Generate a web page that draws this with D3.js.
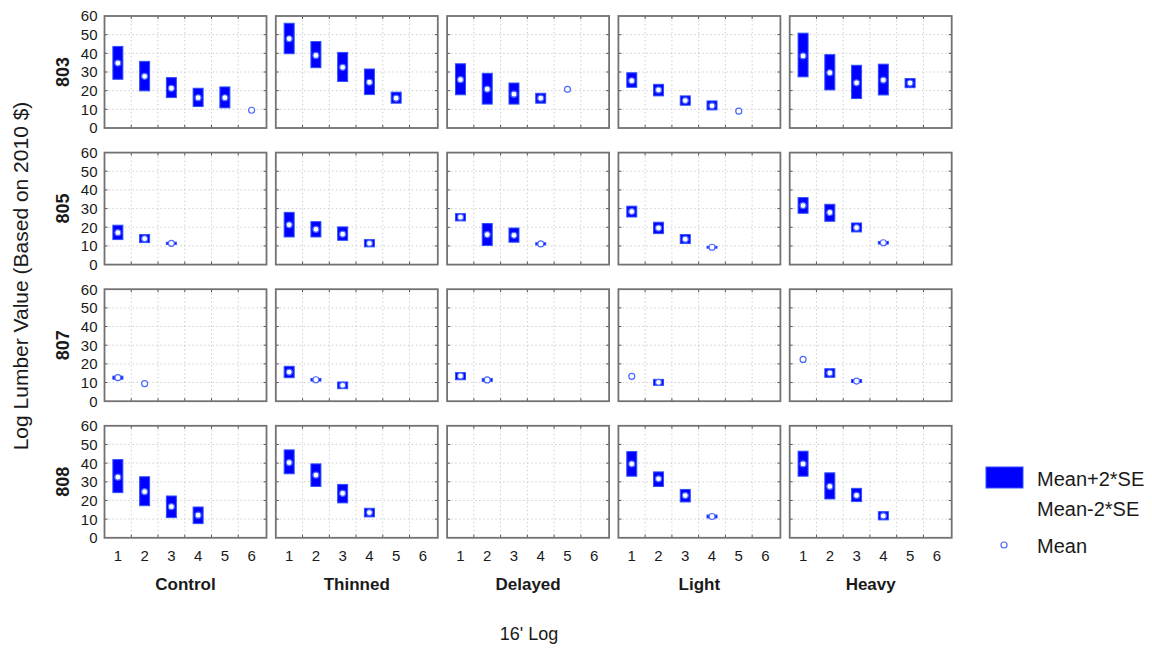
<!DOCTYPE html>
<html>
<head>
<meta charset="utf-8">
<title>Log Lumber Value</title>
<script src="https://d3js.org/d3.v7.min.js"></script>
<style>
  body { margin: 0; background: #fff; }
  svg text { font-family: "Liberation Sans", Arial, sans-serif; fill: #1a1a1a; }
</style>
</head>
<body>
<script>
// sites (rows) and treatments (columns)
var sites = ["803", "805", "807", "808"];
var treatments = ["Control", "Thinned", "Delayed", "Light", "Heavy"];
var logTicks = [1, 2, 3, 4, 5, 6];
var yTicks = [0, 10, 20, 30, 40, 50, 60];

// mean, mean-2*SE, mean+2*SE per treatment, by 16' log position
var mean803 = [[34.8, 27.7, 21.3, 16.2, 16.2, 9.5], [47.8, 38.9, 32.5, 24.5, 16.0], [25.9, 20.8, 18.1, 16.0, 20.7], [25.3, 20.4, 14.7, 11.9, 9.0], [38.6, 29.6, 24.2, 25.7, 24.1]];
var lo803   = [[26.1, 19.9, 16.3, 11.5, 10.8, 9.5], [39.8, 32.3, 24.9, 17.9, 13.3], [17.8, 12.8, 12.8, 13.3, 20.7], [21.8, 17.2, 12.2, 9.7, 9.0], [27.4, 20.4, 15.8, 17.7, 21.6]];
var hi803   = [[43.7, 35.7, 27.0, 21.3, 22.0, 9.5], [56.1, 46.3, 40.5, 31.6, 19.2], [34.4, 29.3, 24.1, 18.6, 20.7], [29.6, 23.4, 17.2, 14.5, 9.0], [50.8, 39.3, 33.6, 34.2, 26.5]];

var mean805 = [[17.1, 13.9, 11.4], [21.3, 18.9, 16.3, 11.4], [25.4, 16.1, 15.7, 11.1], [28.4, 19.6, 13.6, 9.3], [31.6, 27.9, 19.8, 11.7]];
var lo805   = [[13.4, 11.8, 10.8], [14.8, 14.8, 13.0, 9.5], [23.4, 10.2, 12.0, 10.5], [25.5, 16.6, 11.3, 8.8], [27.5, 23.2, 17.5, 11.0]];
var hi805   = [[21.1, 16.1, 12.0], [28.0, 23.0, 20.2, 13.4], [27.3, 22.0, 19.6, 11.7], [31.3, 22.7, 16.1, 9.8], [35.9, 32.3, 22.3, 12.4]];

var mean807 = [[12.6, 9.4], [15.6, 11.5, 8.5], [13.5, 11.4], [13.3, 10.1], [22.4, 15.1, 10.8]];
var lo807   = [[11.8, 9.4], [12.6, 10.8, 6.7], [11.5, 10.6], [13.3, 8.5], [22.4, 12.8, 10.0]];
var hi807   = [[13.4, 9.4], [18.7, 12.2, 10.3], [15.3, 12.2], [13.3, 11.7], [22.4, 17.4, 11.6]];

var mean808 = [[32.5, 24.7, 16.7, 12.1], [40.3, 33.6, 23.8, 13.5], [], [39.6, 31.6, 22.6, 11.4], [39.6, 27.5, 22.7, 11.7]];
var lo808   = [[24.2, 17.2, 10.8, 7.6], [34.3, 27.5, 18.7, 11.2], [], [33.0, 27.5, 19.2, 10.6], [33.0, 20.8, 19.4, 9.6]];
var hi808   = [[41.9, 32.7, 22.4, 16.5], [47.1, 39.6, 28.6, 15.8], [], [46.2, 35.3, 25.9, 12.2], [46.4, 34.8, 26.5, 14.0]];

var means = [mean803, mean805, mean807, mean808];
var lows  = [lo803, lo805, lo807, lo808];
var highs = [hi803, hi805, hi807, hi808];

var width = 1152, height = 648,
    panelLeft = 104.5, panelTop = 16,
    panelW = 162, panelH = 112,
    stepX = 171.3, stepY = 136.6,
    boxW = 10;

var svg = d3.select("body").append("svg")
  .attr("width", width)
  .attr("height", height);

var x = d3.scaleLinear().domain([0.5, 6.5]).range([0, panelW - 1.5]);
var y = d3.scaleLinear().domain([0, 60]).range([panelH, 0]);
var gridX = [1.5, 2.5, 3.5, 4.5, 5.5];
var gridY = [10, 20, 30, 40, 50];

sites.forEach(function (site, r) {
  treatments.forEach(function (trt, c) {
    var g = svg.append("g")
      .attr("transform", "translate(" + (panelLeft + c * stepX) + "," + (panelTop + r * stepY) + ")");

    // dotted grid
    g.selectAll(".gx").data(gridX).enter().append("line")
      .attr("x1", function (d) { return x(d); }).attr("x2", function (d) { return x(d); })
      .attr("y1", 0).attr("y2", panelH)
      .attr("stroke", "#cfcfcf").attr("stroke-dasharray", "1.5,2.5");
    g.selectAll(".gy").data(gridY).enter().append("line")
      .attr("x1", 0).attr("x2", panelW)
      .attr("y1", function (d) { return y(d); }).attr("y2", function (d) { return y(d); })
      .attr("stroke", "#cfcfcf").attr("stroke-dasharray", "1.5,2.5");

    // inward ticks on all four sides
    var tk = 3;
    gridX.forEach(function (d) {
      g.append("line").attr("x1", x(d)).attr("x2", x(d)).attr("y1", 0).attr("y2", tk).attr("stroke", "#555");
      g.append("line").attr("x1", x(d)).attr("x2", x(d)).attr("y1", panelH).attr("y2", panelH - tk).attr("stroke", "#555");
    });
    gridY.forEach(function (d) {
      g.append("line").attr("x1", 0).attr("x2", tk).attr("y1", y(d)).attr("y2", y(d)).attr("stroke", "#555");
      g.append("line").attr("x1", panelW).attr("x2", panelW - tk).attr("y1", y(d)).attr("y2", y(d)).attr("stroke", "#555");
    });

    // frame
    g.append("rect")
      .attr("width", panelW).attr("height", panelH)
      .attr("fill", "none").attr("stroke", "#727272").attr("stroke-width", 1.8);

    var m = means[r][c], lo = lows[r][c], hi = highs[r][c];
    var pts = m.map(function (v, i) { return { pos: i + 1, mean: v, lo: lo[i], hi: hi[i] }; });

    g.selectAll(".box").data(pts.filter(function (d) { return d.hi > d.lo; }))
      .enter().append("rect")
      .attr("x", function (d) { return x(d.pos) - boxW / 2; })
      .attr("y", function (d) { return y(d.hi); })
      .attr("width", boxW)
      .attr("height", function (d) { return y(d.lo) - y(d.hi); })
      .attr("fill", "#0000ff")
      .attr("stroke", "#3050ff").attr("stroke-width", 1);

    g.selectAll(".mean").data(pts).enter().append("circle")
      .attr("cx", function (d) { return x(d.pos); })
      .attr("cy", function (d) { return y(d.mean); })
      .attr("r", 3)
      .attr("fill", "#fff")
      .attr("stroke", "#4a68ff").attr("stroke-width", 1.2);

    // y labels on the first column
    if (c === 0) {
      g.selectAll(".yl").data(yTicks).enter().append("text")
        .attr("x", -7)
        .attr("y", function (d) { return y(d); })
        .attr("dy", "0.36em")
        .attr("text-anchor", "end")
        .attr("font-size", 15)
        .text(function (d) { return d; });
      g.append("text")
        .attr("transform", "translate(-42," + panelH / 2 + ") rotate(-90)")
        .attr("text-anchor", "middle")
        .attr("dy", "0.36em")
        .attr("font-size", 18).attr("font-weight", "bold")
        .text(site);
    }

    // x labels on the last row
    if (r === sites.length - 1) {
      g.selectAll(".xl").data(logTicks).enter().append("text")
        .attr("x", function (d) { return x(d); })
        .attr("y", panelH + 23)
        .attr("text-anchor", "middle")
        .attr("font-size", 15)
        .text(function (d) { return d; });
      g.append("text")
        .attr("x", panelW / 2)
        .attr("y", panelH + 52)
        .attr("text-anchor", "middle")
        .attr("font-size", 17).attr("font-weight", "bold")
        .text(trt);
    }
  });
});

// axis titles
svg.append("text")
  .attr("transform", "translate(20,276) rotate(-90)")
  .attr("text-anchor", "middle")
  .attr("dy", "0.36em")
  .attr("font-size", 21)
  .text("Log Lumber Value (Based on 2010 $)");

svg.append("text")
  .attr("x", 529).attr("y", 640)
  .attr("text-anchor", "middle")
  .attr("font-size", 18)
  .text("16' Log");

// legend
var leg = svg.append("g");
leg.append("rect")
  .attr("x", 986).attr("y", 467).attr("width", 37).attr("height", 21)
  .attr("fill", "#0000ff").attr("stroke", "#3050ff");
leg.append("text").attr("x", 1037).attr("y", 486).attr("font-size", 20).text("Mean+2*SE");
leg.append("text").attr("x", 1037).attr("y", 516).attr("font-size", 20).text("Mean-2*SE");
leg.append("circle").attr("cx", 1004).attr("cy", 545).attr("r", 3)
  .attr("fill", "#fff").attr("stroke", "#4a68ff").attr("stroke-width", 1.2);
leg.append("text").attr("x", 1037).attr("y", 553).attr("font-size", 20).text("Mean");
</script>
</body>
</html>
